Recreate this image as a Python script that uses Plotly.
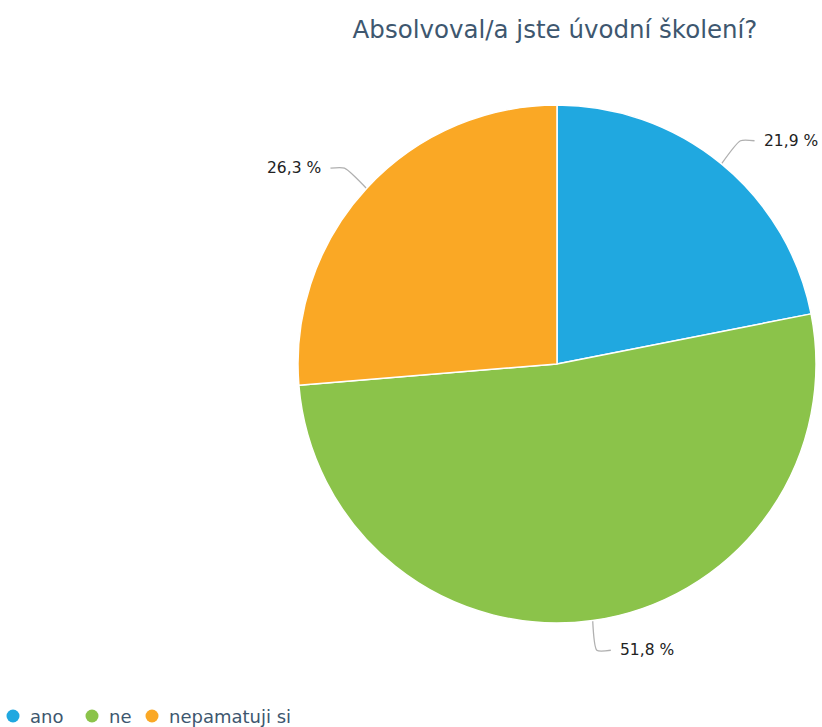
import math
import plotly.graph_objects as go

# Survey answers and their shares (%)
categories = ["ano", "ne", "nepamatuji si"]
values = [21.9, 51.8, 26.3]
colors = ["#20a8e0", "#8bc34a", "#faa825"]
title_text = "Absolvoval/a jste úvodní školení?"

W, H = 822, 727
CX, CY, R = 557, 364, 259  # pie centre and radius in page pixels

fig = go.Figure()

fig.add_trace(go.Pie(
    labels=categories,
    values=values,
    sort=False,
    direction="clockwise",
    rotation=0,
    marker=dict(colors=colors, line=dict(color="white", width=1.5)),
    textinfo="none",
    hoverinfo="label+percent",
    showlegend=False,
    domain=dict(x=[(CX - R) / W, (CX + R) / W],
                y=[1 - (CY + R) / H, 1 - (CY - R) / H]),
))

# Outside labels with connector lines, placed at each slice's mid angle
total = sum(values)
cum = 0.0
for cat, v in zip(categories, values):
    mid = (cum + v / 2) / total * 2 * math.pi
    cum += v
    sx, sy = math.sin(mid), -math.cos(mid)
    x0, y0 = CX + R * sx, CY + R * sy
    x1, y1 = CX + (R + 30) * sx, CY + (R + 30) * sy
    side = 1 if sx >= 0 else -1
    x2 = x1 + side * 14
    fig.add_trace(go.Scatter(
        x=[x0, x1, x2], y=[y0, y1, y1], mode="lines",
        line=dict(color="#b0b0b0", width=1.3, shape="spline", smoothing=0.6),
        hoverinfo="skip", showlegend=False,
    ))
    fig.add_annotation(
        x=x2 + side * 7, y=y1, xref="x", yref="y",
        text=f"{v:.1f} %".replace(".", ","),
        showarrow=False, xanchor="left" if side > 0 else "right",
        yanchor="middle",
        font=dict(family="DejaVu Sans", size=15.5, color="#222222"),
    )

# Legend row along the bottom: round swatch followed by its label
LEG_Y = 716
legend_x = [13, 92, 152]  # swatch centres for each entry
fig.add_trace(go.Scatter(
    x=legend_x, y=[LEG_Y] * len(categories), mode="markers",
    marker=dict(color=colors, size=13, symbol="circle"),
    hoverinfo="skip", showlegend=False,
))
for cat, lx in zip(categories, legend_x):
    fig.add_annotation(
        x=lx + 15, y=LEG_Y, xref="x", yref="y", text=cat,
        showarrow=False, xanchor="left", yanchor="middle",
        font=dict(family="DejaVu Sans", size=18, color="#3e576f"),
    )

fig.update_xaxes(range=[0, W], visible=False, domain=[0, 1], fixedrange=True)
fig.update_yaxes(range=[H, 0], visible=False, domain=[0, 1], fixedrange=True)

fig.update_layout(
    width=W, height=H,
    margin=dict(l=0, r=0, t=0, b=0),
    paper_bgcolor="white", plot_bgcolor="rgba(0,0,0,0)",
    title=dict(text=title_text, x=555 / W, xanchor="center",
               y=1 - 29 / H, yanchor="middle",
               font=dict(family="DejaVu Sans", size=24.5, color="#3e576f")),
    showlegend=False,
)

fig.write_html("out.html")
